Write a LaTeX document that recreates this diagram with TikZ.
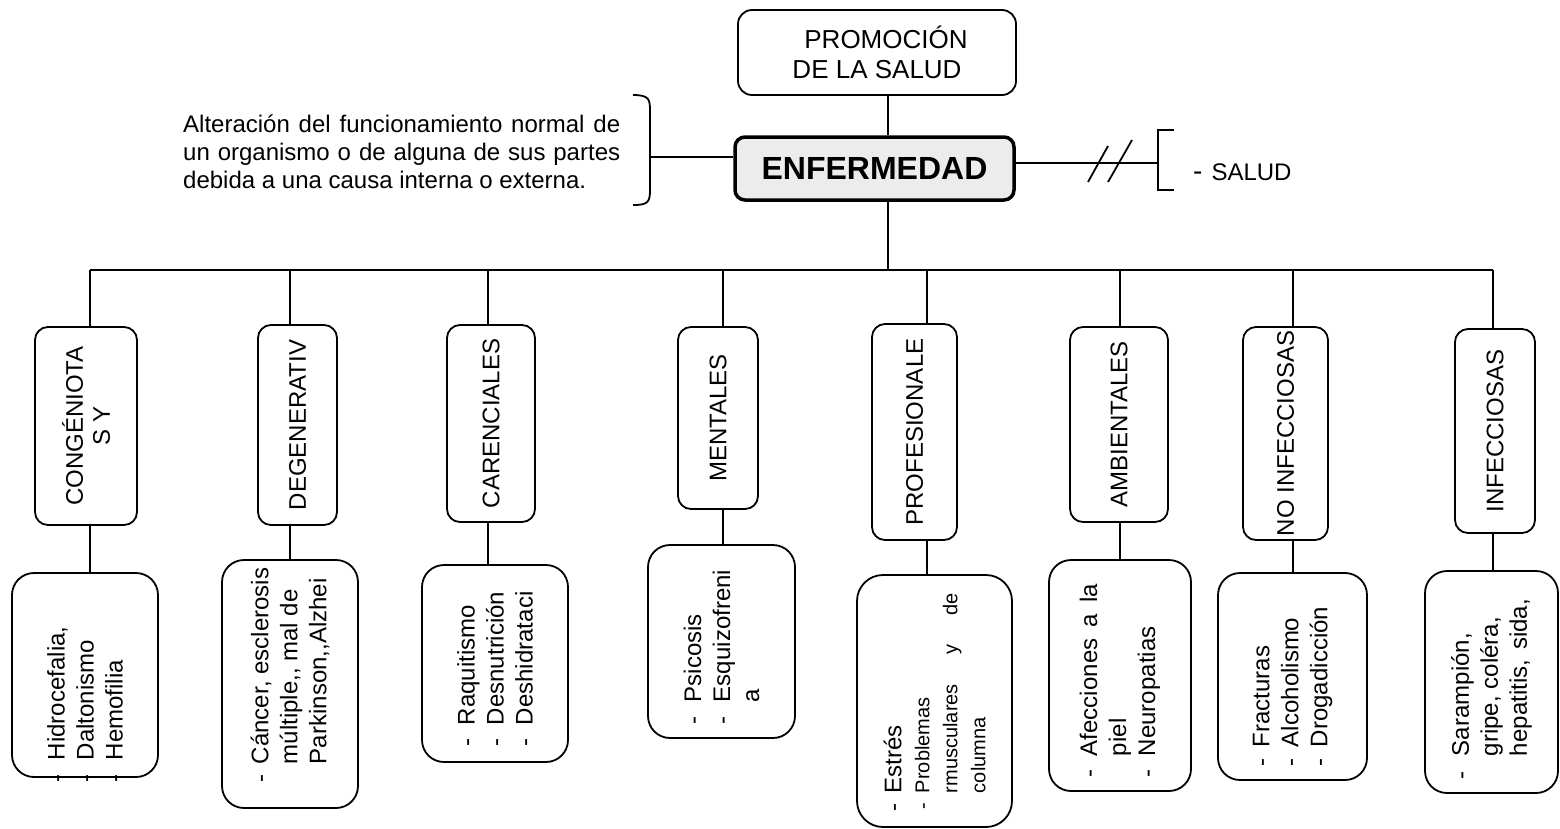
\documentclass[tikz,border=0pt]{standalone}
\usepackage{fontspec}
\setmainfont{Liberation Sans}
\newcommand{\dsh}[1][12pt]{\leavevmode\llap{-\hspace{#1}}}
\newcommand{\nsp}{\spaceskip=0pt\xspaceskip=0pt\relax}
\hyphenpenalty=10000
\exhyphenpenalty=10000
\begin{document}
\begin{tikzpicture}[x=1pt,y=-1pt,
  ln/.style={line width=1.8pt},
  box/.style={draw, line width=1.8pt, inner sep=0pt},
  cat/.style={box, rotate=90, align=center, rounded corners=13pt, font=\fontsize{24}{27}\selectfont},
  det/.style={box, rotate=90, align=left, rounded corners=22pt, font=\fontsize{24}{29}\selectfont},
  ]
\fill[white] (0,0) rectangle (1560,828);
\useasboundingbox (0,0) rectangle (1560,828);

% top boxes
\node[box, rounded corners=14pt, minimum width=278pt, minimum height=85pt, align=center,
      font=\fontsize{26}{30}\selectfont] (prom) at (877,52.5) {\hspace*{18pt}PROMOCIÓN\\DE LA SALUD};
\node[box, line width=3.5pt, fill=gray!15, rounded corners=10pt, minimum width=279pt, minimum height=63pt,
      font=\fontsize{32}{36}\selectfont\bfseries] (enf) at (874.5,168.5) {ENFERMEDAD};

% definition text with brace
\node[anchor=base west, inner sep=0pt, text width=437pt, align=left, font=\fontsize{24}{28}\selectfont] (desc) at (183,132)
  {\nsp\makebox[437pt][s]{Alteración del funcionamiento normal de}\\
   \makebox[437pt][s]{un organismo o de alguna de sus partes}\\
   debida a una causa interna o externa.\par};
\draw[ln] (633,95) .. controls (650,95) and (650,100) .. (650,112) -- (650,190) .. controls (650,202) and (648,205) .. (633,205);
\coordinate (brc) at (650,157);
\draw[ln] (brc) -- (enf.west |- brc);

% salud
\coordinate (skL) at (1158,163);
\draw[ln] (enf.east |- skL) -- (skL);
\draw[ln] (1088,182) -- (1108,146);
\draw[ln] (1108,182) -- (1132,140);
\draw[ln] (1174,130) -- (1158,130) -- (1158,190) -- (1174,190);
\node[anchor=base west, inner sep=0pt, font=\fontsize{24}{28}\selectfont] (salud) at (1193,180) {{\fontsize{28}{28}\selectfont -}\hspace{9pt}SALUD};

% trunk and bus
\coordinate (j0) at (888,270);
\draw[ln] (prom.south -| j0) -- (enf.north -| j0);
\draw[ln] (enf.south -| j0) -- (j0);
\coordinate (b1) at (90,270);
\coordinate (b2) at (290,270);
\coordinate (b3) at (488,270);
\coordinate (b4) at (723,270);
\coordinate (b5) at (927,270);
\coordinate (b6) at (1120,270);
\coordinate (b7) at (1293,270);
\coordinate (b8) at (1493,270);
\draw[ln] (b1) -- (b8);

% categories
\node[cat, minimum width=198pt, minimum height=102pt] (c1) at (86,426) {CONGÉNIOTA\\S Y};
\node[cat, minimum width=200pt, minimum height=79pt] (c2) at (297.5,425) {DEGENERATIV};
\node[cat, minimum width=197pt, minimum height=88pt] (c3) at (491,423.5) {CARENCIALES};
\node[cat, minimum width=182pt, minimum height=80pt] (c4) at (718,418) {MENTALES};
\node[cat, minimum width=216pt, minimum height=85pt] (c5) at (914.5,432) {PROFESIONALE};
\node[cat, minimum width=195pt, minimum height=98pt] (c6) at (1119,424.5) {AMBIENTALES};
\node[cat, minimum width=213pt, minimum height=85pt] (c7) at (1285.5,433.5) {NO INFECCIOSAS};
\node[cat, minimum width=204pt, minimum height=80pt] (c8) at (1495,431) {INFECCIOSAS};

% details
\node[det, minimum width=204pt, text width=204pt, minimum height=146pt] (d1) at (85,675)
  {\nsp\leftskip=17pt \dsh[14pt]Hidrocefalia,\\ \dsh[14pt]Daltonismo\\ \dsh[14pt]Hemofilia\par};
\node[det, minimum width=248pt, text width=248pt, minimum height=136pt] (d2) at (290,684)
  {\nsp\leftskip=44pt \dsh[10pt]Cáncer, esclerosis\\ múltiple,{}, mal de\\ Parkinson,{},Alzhei\par};
\node[det, minimum width=197pt, text width=197pt, minimum height=146pt] (d3) at (495,663.5)
  {\nsp\leftskip=37pt \dsh[13pt]Raquitismo\\ \dsh[13pt]Desnutrición\\ \dsh[13pt]Deshidrataci\par};
\node[det, minimum width=193pt, text width=193pt, minimum height=147pt] (d4) at (721.5,641.5)
  {\nsp\leftskip=36pt \dsh[14pt]Psicosis\\ \dsh[14pt]Esquizofreni\\ a\par};
\node[det, rounded corners=26pt, minimum width=252pt, text width=252pt, minimum height=155pt] (d5) at (934.5,701)
  {\nsp\leftskip=34pt \dsh[10pt]Estrés\\ \fontsize{20}{28}\selectfont\dsh[10pt]Problemas\\ \makebox[200pt][l]{rmusculares\hfill y\hfill de}\\ columna\par};
\node[det, minimum width=231pt, text width=231pt, minimum height=142pt] (d6) at (1120,675.5)
  {\nsp\leftskip=35pt \dsh[13pt]\makebox[172pt][l]{Afecciones\hfill a\hfill la}\\ piel\\ \dsh[13pt]Neuropatias\par};
\node[det, minimum width=207pt, text width=207pt, minimum height=149pt] (d7) at (1292.5,676.5)
  {\nsp\leftskip=33pt \dsh[11pt]Fracturas\\ \dsh[11pt]Alcoholismo\\ \dsh[11pt]Drogadicción\par};
\node[det, minimum width=222pt, text width=222pt, minimum height=133pt] (d8) at (1491.5,682)
  {\nsp\leftskip=37pt \dsh[15pt]Sarampión,\\ gripe, coléra,\\ hepatitis,\hspace{10pt}sida,\par};

% connectors
\foreach \i in {1,...,8} {
  \draw[ln] (b\i) -- (b\i |- c\i.east);
  \draw[ln] (b\i |- c\i.west) -- (b\i |- d\i.east);
}
\end{tikzpicture}
\end{document}
